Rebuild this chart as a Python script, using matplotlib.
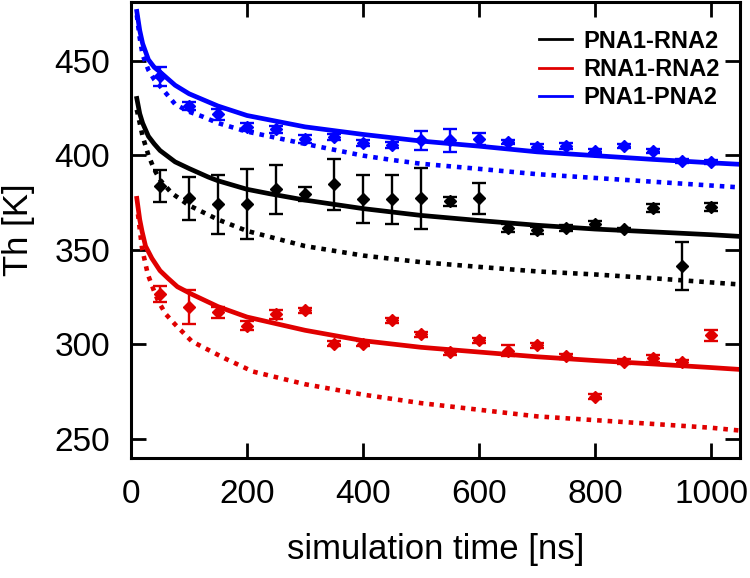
import matplotlib
matplotlib.use("Agg")
import matplotlib.pyplot as plt

plt.rcParams['font.family'] = ['Liberation Sans', 'DejaVu Sans']

# simulated points (time in ns, Th in K, error)
t_pts = [50, 100, 150, 200, 250, 300, 350, 400, 450, 500,
         550, 600, 650, 700, 750, 800, 850, 900, 950, 1000]

pr_y = [383.6, 377.2, 374.0, 374.0, 382.0, 379.4, 384.7, 376.7, 376.7, 377.2,
        375.7, 377.2, 361.4, 360.3, 361.4, 363.5, 360.8, 372.0, 341.3, 372.5]
pr_err = [8.5, 11.5, 15.6, 18.5, 13.0, 3.7, 13.5, 12.7, 13.0, 16.0,
          2.4, 8.0, 2.0, 2.0, 1.5, 2.0, 1.0, 2.0, 12.7, 2.0]

rr_y = [326.5, 319.6, 317.0, 310.0, 315.9, 318.0, 300.5, 300.5, 312.7, 305.3,
        295.8, 302.1, 296.8, 299.5, 293.7, 272.5, 291.0, 292.6, 290.5, 304.8]
rr_err = [4.3, 9.0, 3.0, 2.5, 2.5, 1.5, 1.5, 1.5, 1.5, 1.5,
          1.5, 1.5, 3.0, 1.5, 1.5, 1.5, 1.5, 2.0, 1.5, 3.0]

pp_y = [441.8, 426.0, 421.7, 414.8, 413.7, 408.5, 409.5, 406.3, 405.3, 407.9,
        407.9, 408.5, 406.9, 404.2, 404.8, 402.1, 404.8, 402.1, 396.8, 396.3]
pp_err = [5.0, 2.0, 3.0, 2.0, 2.0, 2.0, 1.5, 1.5, 1.5, 5.0,
          6.0, 3.0, 1.0, 1.5, 1.5, 1.0, 1.0, 1.0, 1.0, 1.0]

# fitted curves
pr_fit_t = [10, 15, 20, 30, 40, 50, 76, 100, 133, 150, 200, 240, 300, 400,
            500, 600, 700, 800, 900, 1000, 1050]
pr_fit_y = [430.0, 422.0, 417.0, 410.0, 406.0, 402.5, 396.5, 393.0, 388.5,
            386.5, 382.0, 379.6, 376.3, 371.8, 368.2, 365.5, 363.0, 361.0,
            359.5, 358.0, 357.1]
pr_dot_t = [10, 20, 30, 40, 50, 70, 100, 150, 200, 300, 400, 500, 600, 700,
            800, 900, 1000, 1050]
pr_dot_y = [424.0, 410.0, 400.0, 392.5, 387.0, 380.0, 373.5, 366.0, 360.0,
            352.0, 347.0, 343.5, 341.0, 338.6, 337.0, 335.0, 332.8, 331.7]

rr_fit_t = [10, 15, 19, 25, 36, 50, 64, 80, 105, 150, 200, 300, 400, 500,
            600, 700, 800, 900, 1000, 1050]
rr_fit_y = [377.2, 366.0, 359.8, 352.0, 345.5, 339.0, 334.9, 330.5, 326.5,
            320.0, 314.5, 307.5, 302.0, 298.5, 296.0, 293.5, 291.5, 289.7,
            287.8, 286.8]
rr_dot_t = [12, 19, 29, 40, 47, 60, 76, 105, 162, 210, 300, 400, 500, 600,
            700, 800, 900, 1000, 1050]
rr_dot_y = [368.8, 350.8, 337.0, 328.0, 322.8, 316.0, 310.6, 301.6, 292.6,
            285.7, 279.0, 273.5, 269.0, 265.5, 262.0, 260.0, 258.0, 256.0, 254.5]

pp_fit_t = [10, 15, 20, 30, 40, 50, 76, 100, 150, 200, 300, 400, 500, 600,
            700, 800, 900, 1000, 1050]
pp_fit_y = [476.0, 466.0, 459.0, 450.5, 446.5, 444.0, 437.0, 432.5, 426.0,
            421.0, 415.0, 411.0, 407.5, 404.8, 401.8, 399.8, 397.8, 396.0, 395.2]
pp_dot_t = [10, 15, 20, 30, 40, 50, 76, 100, 122, 150, 200, 300, 400, 450,
            500, 600, 700, 800, 900, 1000, 1050]
pp_dot_y = [474.0, 462.0, 453.0, 445.0, 440.0, 436.5, 427.0, 423.0, 420.6,
            417.0, 412.5, 406.0, 399.8, 397.5, 395.5, 392.8, 390.0, 388.0,
            386.0, 384.0, 383.0]

series = [
    ("PNA1-RNA2", "black", pr_y, pr_err, pr_fit_t, pr_fit_y, pr_dot_t, pr_dot_y),
    ("RNA1-RNA2", "#e00000", rr_y, rr_err, rr_fit_t, rr_fit_y, rr_dot_t, rr_dot_y),
    ("PNA1-PNA2", "#0000ff", pp_y, pp_err, pp_fit_t, pp_fit_y, pp_dot_t, pp_dot_y),
]

fig = plt.figure(figsize=(7.5, 5.78), dpi=100)
ax = fig.add_axes([0.1747, 0.2076, 0.812, 0.789])

for name, col, y, err, ft, fy, dt, dy in series:
    ax.plot(ft, fy, "-", color=col, lw=3.4, label=name)
    ax.plot(dt, dy, color=col, lw=3.3, linestyle=(0, (1.0, 1.3)),
            dash_capstyle="butt")
    ax.errorbar(t_pts, y, yerr=err, fmt="D", color=col, ms=6.5, elinewidth=1.7,
                capsize=5, capthick=1.7)

ax.set_xlim(0, 1050)
ax.set_ylim(240, 481)
ax.set_xticks([0, 200, 400, 600, 800, 1000])
ax.set_yticks([250, 300, 350, 400, 450])
ax.tick_params(direction="in", length=11, width=2.0, labelsize=24,
               top=True, right=True)
ax.tick_params(axis="x", pad=15)
ax.tick_params(axis="y", pad=15)
for s in ax.spines.values():
    s.set_linewidth(2.2)

ax.set_xlabel("simulation time [ns]", fontsize=25, labelpad=17)
ax.set_ylabel("Th [K]", fontsize=25, labelpad=14)

leg = ax.legend(loc="upper right", bbox_to_anchor=(0.983, 0.96),
                borderaxespad=0, frameon=False, handlelength=1.4,
                prop={"weight": "bold", "size": 17}, labelspacing=0.22,
                handletextpad=0.5)
for line in leg.get_lines():
    line.set_linewidth(2.0)

fig.savefig("out.png", dpi=100)
